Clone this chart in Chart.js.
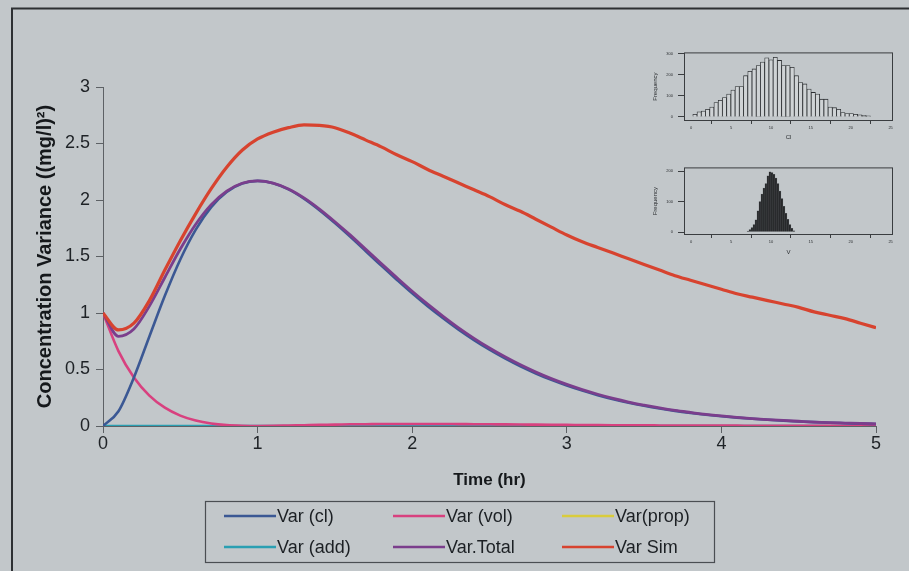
<!DOCTYPE html>
<html>
<head>
<meta charset="utf-8">
<script src="https://cdn.jsdelivr.net/npm/chart.js@4.4.1/dist/chart.umd.min.js"></script>
<style>
  html, body { margin: 0; padding: 0; background: #c2c7ca; }
  #wrap { position: relative; width: 909px; height: 571px; overflow: hidden; }
  canvas { position: absolute; }
  #main { left: 0; top: 0; }
  #histCl { left: 640px; top: 45px; }
  #histV { left: 640px; top: 160px; }
</style>
</head>
<body>
<div id="wrap">
  <canvas id="main" width="909" height="571"></canvas>
  <canvas id="histCl" width="260" height="100"></canvas>
  <canvas id="histV" width="260" height="100"></canvas>
</div>
<script>
// Time grid (hr)
const times = [0.0, 0.1, 0.2, 0.3, 0.4, 0.5, 0.6, 0.7, 0.8, 0.9,
               1.0, 1.1, 1.2, 1.3, 1.4, 1.5, 1.6, 1.7, 1.8, 1.9,
               2.0, 2.1, 2.2, 2.3, 2.4, 2.5, 2.6, 2.7, 2.8, 2.9,
               3.0, 3.1, 3.2, 3.3, 3.4, 3.5, 3.6, 3.7, 3.8, 3.9,
               4.0, 4.1, 4.2, 4.3, 4.4, 4.5, 4.6, 4.7, 4.8, 4.9, 5.0];

// Variance contributions ((mg/l)^2)
const varCl = [0.000, 0.131, 0.430, 0.792, 1.152, 1.474, 1.738, 1.937, 2.071, 2.146,
               2.169, 2.149, 2.094, 2.012, 1.910, 1.796, 1.674, 1.547, 1.419, 1.295,
               1.174, 1.060, 0.953, 0.852, 0.760, 0.675, 0.598, 0.528, 0.465, 0.408,
               0.358, 0.313, 0.273, 0.237, 0.206, 0.179, 0.155, 0.134, 0.116, 0.100,
               0.086, 0.074, 0.064, 0.055, 0.047, 0.040, 0.034, 0.029, 0.025, 0.021, 0.018];
const varVol = [1.000, 0.663, 0.429, 0.269, 0.162, 0.092, 0.048, 0.022, 0.008, 0.002,
                0.000, 0.001, 0.004, 0.007, 0.010, 0.012, 0.015, 0.016, 0.018, 0.018,
                0.018, 0.018, 0.018, 0.017, 0.016, 0.015, 0.014, 0.013, 0.012, 0.011,
                0.010, 0.009, 0.008, 0.007, 0.006, 0.006, 0.005, 0.004, 0.004, 0.003,
                0.003, 0.003, 0.002, 0.002, 0.002, 0.002, 0.001, 0.001, 0.001, 0.001, 0.001];
const varProp = [0, 0, 0, 0, 0, 0, 0, 0, 0, 0,
                 0, 0, 0, 0, 0, 0, 0, 0, 0, 0,
                 0, 0, 0, 0, 0, 0, 0, 0, 0, 0,
                 0, 0, 0, 0, 0, 0, 0, 0, 0, 0,
                 0, 0, 0, 0, 0, 0, 0, 0, 0, 0, 0];
const varAdd = [0, 0, 0, 0, 0, 0, 0, 0, 0, 0,
                0, 0, 0, 0, 0, 0, 0, 0, 0, 0,
                0, 0, 0, 0, 0, 0, 0, 0, 0, 0,
                0, 0, 0, 0, 0, 0, 0, 0, 0, 0,
                0, 0, 0, 0, 0, 0, 0, 0, 0, 0, 0];
const varTotal = [1.000, 0.794, 0.859, 1.061, 1.314, 1.566, 1.786, 1.959, 2.079, 2.148,
                  2.169, 2.150, 2.098, 2.019, 1.920, 1.808, 1.689, 1.563, 1.437, 1.313,
                  1.192, 1.078, 0.971, 0.869, 0.776, 0.690, 0.612, 0.541, 0.477, 0.419,
                  0.368, 0.322, 0.281, 0.244, 0.212, 0.185, 0.160, 0.138, 0.120, 0.103,
                  0.089, 0.077, 0.066, 0.057, 0.049, 0.042, 0.035, 0.030, 0.026, 0.022, 0.019];
const varSim = [1.00, 0.85, 0.91, 1.11, 1.38, 1.64, 1.88, 2.10, 2.29, 2.44,
                2.54, 2.60, 2.64, 2.665, 2.66, 2.64, 2.59, 2.53, 2.47, 2.40,
                2.34, 2.27, 2.21, 2.15, 2.09, 2.03, 1.96, 1.90, 1.83, 1.76,
                1.69, 1.63, 1.58, 1.53, 1.48, 1.43, 1.38, 1.33, 1.29, 1.25,
                1.21, 1.17, 1.14, 1.11, 1.08, 1.05, 1.01, 0.98, 0.95, 0.91, 0.87];

// Series names, in legend order
const seriesLabels = ['Var (cl)', 'Var (vol)', 'Var(prop)', 'Var (add)', 'Var.Total', 'Var Sim'];

// Axis ticks
const xTicks = [0, 1, 2, 3, 4, 5];
const yTicks = [0, 0.5, 1, 1.5, 2, 2.5, 3];

// Simulated parameter samples: clearance histogram
const clBinMids = [0.47, 1.00, 1.53, 2.06, 2.59, 3.12, 3.65, 4.18, 4.71, 5.24,
                   5.77, 6.30, 6.83, 7.36, 7.89, 8.42, 8.95, 9.48, 10.01, 10.54,
                   11.07, 11.60, 12.13, 12.66, 13.19, 13.72, 14.25, 14.78, 15.31, 15.84,
                   16.37, 16.90, 17.43, 17.96, 18.49, 19.02, 19.55, 20.08, 20.61, 21.14,
                   21.67, 22.20];
const clCounts = [13, 24, 28, 36, 47, 68, 79, 92, 108, 127,
                  144, 144, 195, 216, 227, 243, 259, 279, 270, 282,
                  267, 243, 243, 235, 195, 163, 156, 132, 116, 108,
                  84, 84, 47, 44, 36, 21, 16, 16, 13, 10,
                  8, 5];
// Simulated parameter samples: volume histogram
const vBinMids = [7.125, 7.375, 7.625, 7.875, 8.125, 8.375, 8.625, 8.875,
                  9.125, 9.375, 9.625, 9.875, 10.125, 10.375, 10.625, 10.875,
                  11.125, 11.375, 11.625, 11.875, 12.125, 12.375, 12.625, 12.875];
const vCounts = [3, 8, 15, 25, 40, 70, 100, 125,
                 145, 160, 185, 198, 196, 190, 178, 160,
                 135, 110, 85, 62, 42, 25, 12, 4];
const histXTicks = [0, 5, 10, 15, 20, 25];

const FONT = "'Liberation Sans', Arial, Helvetica, sans-serif";
const BG = '#c2c7ca';

function pts(ys) { return times.map((t, i) => ({ x: t, y: ys[i] })); }

const seriesStyle = [
  { data: varCl,    color: '#3b5894', width: 2.6, order: 2 },
  { data: varVol,   color: '#d8417f', width: 2.6, order: 3 },
  { data: varProp,  color: '#d9cc3c', width: 1.8, order: 5 },
  { data: varAdd,   color: '#2a9fb2', width: 2.6, order: 4 },
  { data: varTotal, color: '#7b3e8c', width: 2.8, order: 1 },
  { data: varSim,   color: '#d7432f', width: 3.2, order: 0 }
];

const datasets = seriesStyle.map((s, i) => ({
  label: seriesLabels[i],
  data: pts(s.data),
  borderColor: s.color,
  backgroundColor: s.color,
  borderWidth: s.width,
  pointRadius: 0,
  fill: false,
  cubicInterpolationMode: 'monotone',
  order: s.order
}));

// Page background and outer frame
const framePlugin = {
  id: 'framePlugin',
  beforeDraw(chart) {
    const ctx = chart.ctx;
    ctx.save();
    ctx.fillStyle = BG;
    ctx.fillRect(0, 0, chart.width, chart.height);
    ctx.strokeStyle = '#2d3033';
    ctx.lineWidth = 2;
    ctx.strokeRect(12, 8.5, 1000, 1000);
    ctx.restore();
  }
};

// Boxed two-row legend under the x axis
const boxLegend = {
  id: 'boxLegend',
  afterDraw(chart) {
    const ctx = chart.ctx;
    const slots = [[224, 516], [393, 516], [562, 516], [224, 547], [393, 547], [562, 547]];
    ctx.save();
    ctx.strokeStyle = '#4a4e52';
    ctx.lineWidth = 1.2;
    ctx.strokeRect(205.5, 501.5, 509, 61);
    ctx.font = '18px ' + FONT;
    ctx.textBaseline = 'middle';
    ctx.textAlign = 'left';
    chart.data.datasets.forEach((ds, i) => {
      const [x, y] = slots[i];
      ctx.strokeStyle = ds.borderColor;
      ctx.lineWidth = 2.6;
      ctx.beginPath();
      ctx.moveTo(x, y);
      ctx.lineTo(x + 52, y);
      ctx.stroke();
      ctx.fillStyle = '#1c2024';
      ctx.fillText(ds.label, x + 53, y + 1);
    });
    ctx.restore();
  }
};

const plainNumber = v => String(v);

new Chart(document.getElementById('main'), {
  type: 'line',
  data: { datasets },
  options: {
    responsive: false,
    animation: false,
    events: [],
    layout: { padding: { left: 0, top: 87, right: 33, bottom: 0 } },
    plugins: { legend: { display: false }, tooltip: { enabled: false } },
    scales: {
      x: {
        type: 'linear',
        min: xTicks[0],
        max: xTicks[xTicks.length - 1],
        afterBuildTicks(s) { s.ticks = xTicks.map(v => ({ value: v })); },
        afterFit(s) { s.height = 145; },
        ticks: { color: '#1e2226', font: { family: FONT, size: 18 }, padding: 0, autoSkip: false, callback: plainNumber },
        grid: { drawOnChartArea: false, drawTicks: true, tickLength: 7, color: '#5d6165', lineWidth: 1 },
        border: { display: true, color: '#5d6165', width: 1 },
        title: {
          display: true, text: 'Time (hr)', color: '#15181b',
          font: { family: FONT, size: 17, weight: 'bold' },
          padding: { top: 0, bottom: 80 }
        }
      },
      y: {
        min: yTicks[0],
        max: yTicks[yTicks.length - 1],
        afterBuildTicks(s) { s.ticks = yTicks.map(v => ({ value: v })); },
        afterFit(s) { s.width = 103; },
        ticks: { color: '#1e2226', font: { family: FONT, size: 18 }, padding: 6, autoSkip: false, callback: plainNumber },
        grid: { drawOnChartArea: false, drawTicks: true, tickLength: 7, color: '#5d6165', lineWidth: 1 },
        border: { display: true, color: '#5d6165', width: 1 },
        title: {
          display: true, text: 'Concentration Variance ((mg/l)²)', color: '#15181b',
          font: { family: FONT, size: 20, weight: 'bold' },
          padding: { top: 33, bottom: 0 }
        }
      }
    }
  },
  plugins: [framePlugin, boxLegend]
});

// Small frequency histograms
const insetBox = {
  id: 'insetBox',
  afterDatasetsDraw(chart) {
    const a = chart.chartArea, ctx = chart.ctx;
    ctx.save();
    ctx.strokeStyle = '#3a3d40';
    ctx.lineWidth = 1;
    ctx.strokeRect(a.left + 0.5, a.top + 0.5, a.width - 1, a.height - 1);
    ctx.restore();
  }
};

function histogram(id, mids, counts, cfg) {
  new Chart(document.getElementById(id), {
    type: 'bar',
    data: {
      datasets: [{
        data: mids.map((m, i) => ({ x: m, y: counts[i] })),
        backgroundColor: cfg.fill,
        borderColor: cfg.edge,
        borderWidth: cfg.edgeWidth,
        barPercentage: 1,
        categoryPercentage: 1
      }]
    },
    options: {
      responsive: false,
      animation: false,
      events: [],
      layout: { padding: { left: 0, top: cfg.top, right: 7, bottom: 0 } },
      plugins: { legend: { display: false }, tooltip: { enabled: false } },
      scales: {
        x: {
          type: 'linear', offset: false, min: -0.9, max: 25.3,
          afterBuildTicks(s) { s.ticks = histXTicks.map(v => ({ value: v })); },
          afterFit(s) { s.height = cfg.xh; },
          ticks: { color: '#2a2d30', font: { family: FONT, size: 4 }, padding: cfg.xpad, autoSkip: false, maxRotation: 0 },
          grid: { drawOnChartArea: false, drawTicks: true, tickLength: 3, color: '#3a3d40' },
          border: { display: false },
          title: { display: true, text: cfg.xTitle, color: '#2a2d30', font: { family: FONT, size: 6 }, padding: { top: 0, bottom: 4.4 } }
        },
        y: {
          min: cfg.ymin, max: cfg.ymax,
          afterBuildTicks(s) { s.ticks = cfg.yTicks.map(v => ({ value: v })); },
          afterFit(s) { s.width = 44; },
          ticks: { color: '#2a2d30', font: { family: FONT, size: 4 }, padding: 5, autoSkip: false },
          grid: { drawOnChartArea: false, drawTicks: true, tickLength: 6, color: '#3a3d40' },
          border: { display: false },
          title: { display: true, text: 'Frequency', color: '#2a2d30', font: { family: FONT, size: 6 }, padding: { top: 11.4, bottom: 0 } }
        }
      }
    },
    plugins: [insetBox]
  });
}

histogram('histCl', clBinMids, clCounts, {
  fill: '#cfd3d5', edge: '#2b2e31', edgeWidth: 0.8,
  top: 7, xh: 24, xpad: 1, ymin: -19, ymax: 305, yTicks: [0, 100, 200, 300], xTitle: 'Cl'
});
histogram('histV', vBinMids, vCounts, {
  fill: '#202224', edge: '#5a5d60', edgeWidth: 0.5,
  top: 6, xh: 25, xpad: 1.6, ymin: -9.7, ymax: 213, yTicks: [0, 100, 200], xTitle: 'V'
});
</script>
</body>
</html>
